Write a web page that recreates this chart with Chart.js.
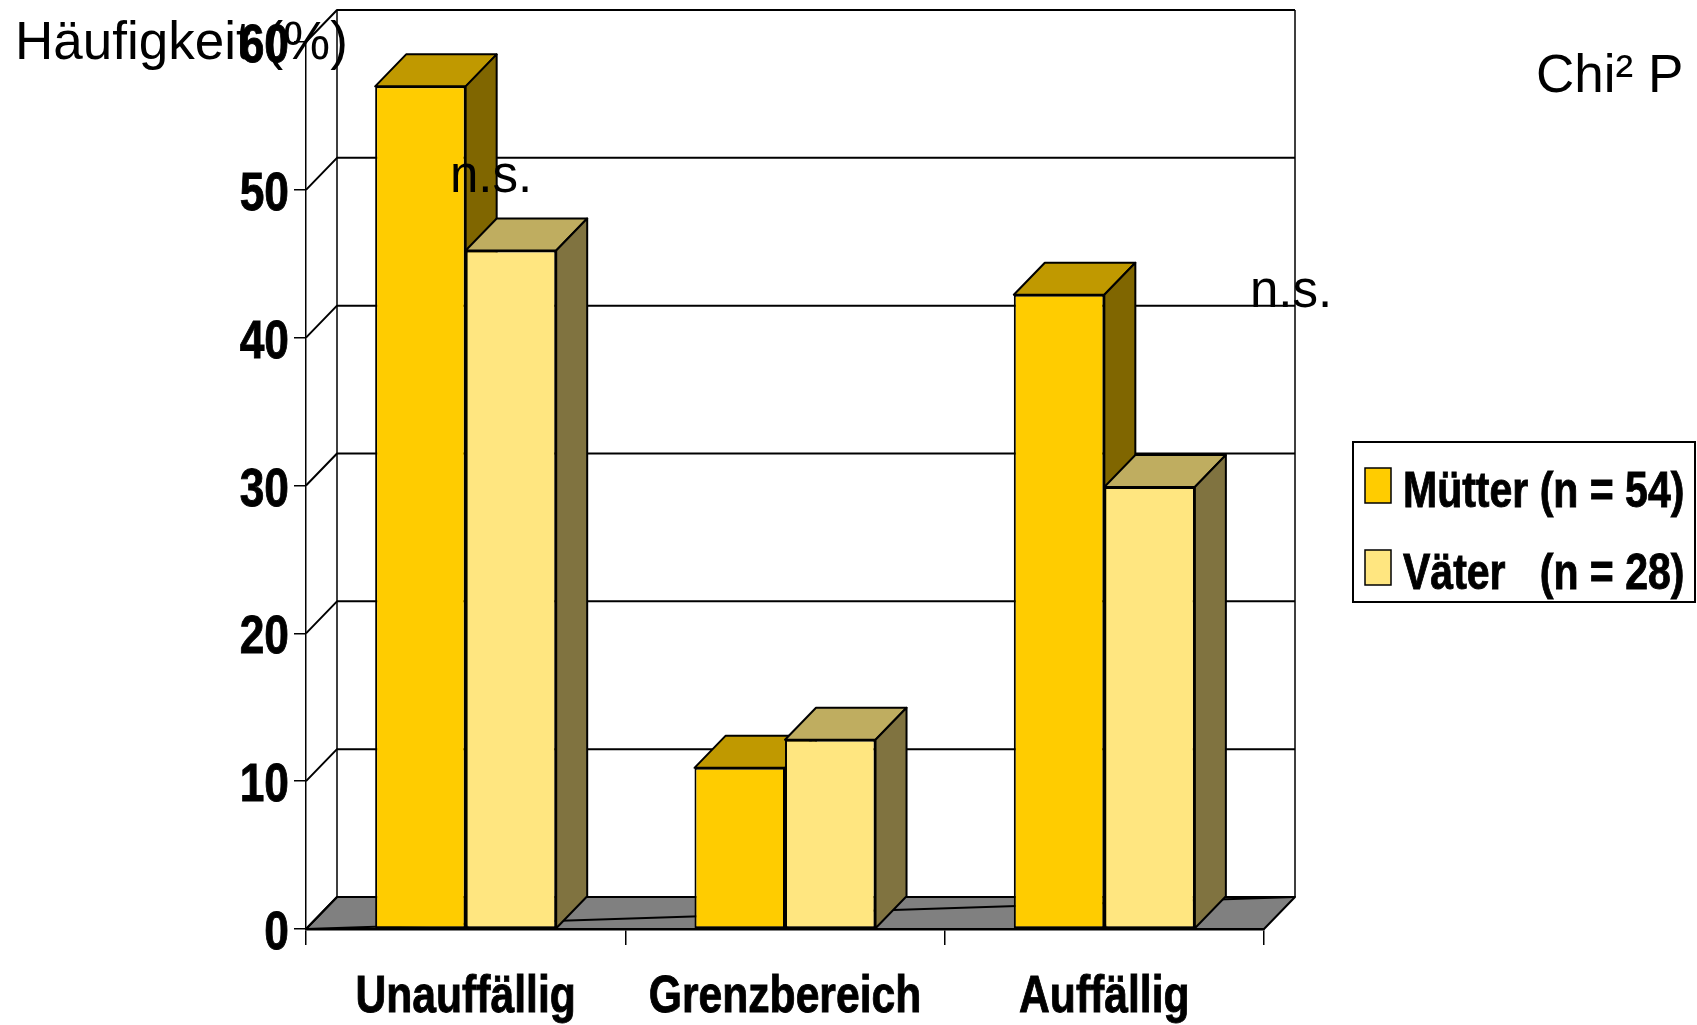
<!DOCTYPE html>
<html lang="de">
<head>
<meta charset="utf-8">
<title>Häufigkeit (%)</title>
<script src="https://cdn.jsdelivr.net/npm/chart.js@4"></script>
<style>
  html, body { margin: 0; padding: 0; background: #fff; }
  canvas { display: block; }
</style>
</head>
<body>
<canvas id="chart" width="1697" height="1025"></canvas>
<script>
const categories = ['Unauffällig', 'Grenzbereich', 'Auffällig'];
const muetterValues = [57.0, 10.9, 42.9];
const vaeterValues = [45.9, 12.8, 29.9];
const seriesLabels = ['Mütter (n = 54)', 'Väter   (n = 28)'];
const yTickValues = [0, 10, 20, 30, 40, 50, 60];
const sigLabels = ['n.s.', 'n.s.'];

const REGULAR = '"Liberation Sans", Arial, sans-serif';
// no narrow face installed, so bold text is squeezed horizontally
const SQUEEZE = 0.82;

// front / top / side shading of each series
const shades = [
    { front: '#FFCC00', top: '#C09900', side: '#806600' },
    { front: '#FFE680', top: '#BFAD60', side: '#807340' }
];

// offset from the front plane to the back wall
const DX = 31, DY = -32;

function poly(ctx, pts, fill) {
    ctx.beginPath();
    ctx.moveTo(pts[0][0], pts[0][1]);
    for (let i = 1; i < pts.length; i++) ctx.lineTo(pts[i][0], pts[i][1]);
    ctx.closePath();
    ctx.fillStyle = fill;
    ctx.fill();
    ctx.stroke();
}

function narrowText(ctx, text, x, y, size, align) {
    ctx.save();
    ctx.font = `bold ${size}px ${REGULAR}`;
    ctx.textAlign = align;
    ctx.textBaseline = 'alphabetic';
    ctx.translate(x, y);
    ctx.scale(SQUEEZE, 1);
    ctx.fillStyle = '#000';
    ctx.strokeStyle = '#000';
    ctx.lineWidth = 0.9;
    ctx.fillText(text, 0, 0);
    ctx.strokeText(text, 0, 0);
    ctx.restore();
}

const box3d = {
    id: 'box3d',
    beforeDatasetsDraw(chart) {
        const { ctx, chartArea: a, scales: { y } } = chart;
        const y0 = y.getPixelForValue(0);
        const yTop = y.getPixelForValue(y.max);
        ctx.save();
        ctx.strokeStyle = '#000';
        ctx.lineWidth = 2;
        ctx.lineJoin = 'round';

        // floor
        poly(ctx, [[a.left, y0], [a.right, y0], [a.right + DX, y0 + DY], [a.left + DX, y0 + DY]], '#808080');
        ctx.beginPath();
        ctx.moveTo(a.left, y0);
        ctx.lineTo(a.right + DX, y0 + DY);
        ctx.stroke();

        // side wall diagonals + back wall gridlines
        y.ticks.forEach(t => {
            const py = y.getPixelForValue(t.value);
            ctx.beginPath();
            ctx.moveTo(a.left, py);
            ctx.lineTo(a.left + DX, py + DY);
            ctx.lineTo(a.right + DX, py + DY);
            ctx.stroke();
        });
        ctx.lineWidth = 1.5;
        ctx.beginPath();
        ctx.moveTo(a.left + DX, y0 + DY);
        ctx.lineTo(a.left + DX, yTop + DY);
        ctx.moveTo(a.right + DX, y0 + DY);
        ctx.lineTo(a.right + DX, yTop + DY);
        ctx.stroke();

        // top and side faces of the columns
        ctx.lineWidth = 2;
        chart.data.datasets.forEach((ds, i) => {
            chart.getDatasetMeta(i).data.forEach(bar => {
                const { x, y: ty, base, width } = bar.getProps(['x', 'y', 'base', 'width'], true);
                const l = x - width / 2, r = x + width / 2;
                poly(ctx, [[l, ty], [r, ty], [r + DX, ty + DY], [l + DX, ty + DY]], shades[i].top);
                poly(ctx, [[r, ty], [r + DX, ty + DY], [r + DX, base + DY], [r, base]], shades[i].side);
            });
        });
        ctx.restore();
    },
    afterDraw(chart) {
        const { ctx, scales: { x, y } } = chart;
        ctx.save();
        ctx.fillStyle = '#000';

        // axis labels
        y.ticks.forEach((t, i) => {
            narrowText(ctx, String(t.value), 289, y.getPixelForTick(i) + 20, 54, 'right');
        });
        x.ticks.forEach((t, i) => {
            narrowText(ctx, x.getLabelForValue(t.value), x.getPixelForTick(i), 1012, 52, 'center');
        });

        ctx.textBaseline = 'alphabetic';
        ctx.textAlign = 'left';
        ctx.fillStyle = '#000';
        ctx.font = `53px ${REGULAR}`;
        ctx.fillText('Häufigkeit (%)', 15, 59);
        ctx.fillText('Chi² P', 1536, 92);

        ctx.font = `51px ${REGULAR}`;
        ctx.fillText(sigLabels[0], 450, 192);
        ctx.fillText(sigLabels[1], 1250, 307);

        // legend box
        ctx.strokeStyle = '#000';
        ctx.lineWidth = 2;
        ctx.strokeRect(1353, 442, 342, 160);
        chart.data.datasets.forEach((ds, i) => {
            const top = 468 + i * 82;
            ctx.fillStyle = ds.backgroundColor;
            ctx.strokeStyle = '#000';
            ctx.lineWidth = 1.5;
            ctx.fillRect(1365, top, 26, 35);
            ctx.strokeRect(1365, top, 26, 35);
            narrowText(ctx, ds.label, 1403, top + 39, 50, 'left');
        });
        ctx.restore();
    }
};

new Chart(document.getElementById('chart'), {
    type: 'bar',
    data: {
        labels: categories,
        datasets: [
            { label: seriesLabels[0], data: muetterValues, backgroundColor: shades[0].front },
            { label: seriesLabels[1], data: vaeterValues, backgroundColor: shades[1].front }
        ]
    },
    options: {
        responsive: false,
        animation: false,
        devicePixelRatio: 1,
        layout: { padding: { left: 0, top: 42, right: 433, bottom: 0 } },
        datasets: {
            bar: {
                borderColor: '#000',
                borderWidth: 2,
                borderSkipped: false,
                categoryPercentage: 0.567,
                barPercentage: 1
            }
        },
        plugins: {
            legend: { display: false },
            tooltip: { enabled: false }
        },
        scales: {
            x: {
                offset: true,
                grid: {
                    offset: true,
                    drawOnChartArea: false,
                    tickLength: 16,
                    color: '#000',
                    lineWidth: 1.5
                },
                border: { display: true, color: '#000', width: 2.5 },
                ticks: { display: false, autoSkip: false, maxRotation: 0 },
                afterFit: s => { s.height = 96; }
            },
            y: {
                min: 0,
                max: 60,
                afterBuildTicks: s => { s.ticks = yTickValues.map(v => ({ value: v })); },
                grid: {
                    drawOnChartArea: false,
                    tickLength: 12,
                    color: '#000',
                    lineWidth: 1.5
                },
                border: { display: true, color: '#000', width: 1.5 },
                ticks: { display: false },
                afterFit: s => { s.width = 306; }
            }
        }
    },
    plugins: [box3d]
});
</script>
</body>
</html>
